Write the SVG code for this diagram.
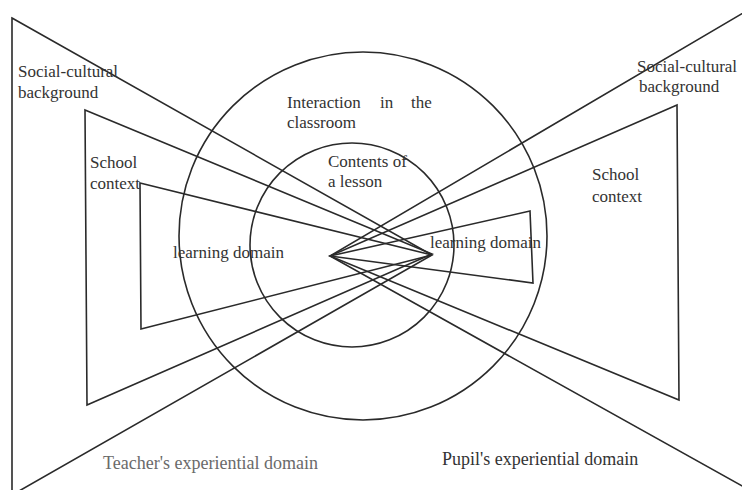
<svg xmlns="http://www.w3.org/2000/svg" width="742" height="490" viewBox="0 0 742 490">
<style>
.ln{fill:none;stroke:#2a2a2a;stroke-width:1.6;stroke-linejoin:miter}
.t{font-family:"Liberation Serif","Times New Roman",serif;font-size:17px;fill:#333}
.b{font-size:18px}
.g{fill:#6a6a6a}
</style>
<rect width="742" height="490" fill="#fff"/>
<g id="circles">
<circle id="outer-circle" class="ln" cx="363" cy="236" r="184"/>
<circle id="inner-circle" class="ln" cx="352" cy="245" r="102"/>
</g>
<g id="connectors">
<polygon id="teacher-social" class="ln" points="12,18 432,255 12,495"/>
<polygon id="teacher-school" class="ln" points="85,110 432,254 87,405"/>
<polygon id="teacher-learning" class="ln" points="140,183 432,255 141,329"/>
<polygon id="pupil-social" class="ln" points="760,3 330,256 760,496"/>
<polygon id="pupil-school" class="ln" points="677,105 330,256 679,400"/>
<polygon id="pupil-learning" class="ln" points="530,211 330,256 533,283"/>
</g>
<g id="node-social-left"><text class="t" x="18" y="77">Social-cultural</text><text class="t" x="18" y="98">background</text></g>
<g id="node-school-left"><text class="t" x="90" y="168">School</text><text class="t" x="90" y="189">context</text></g>
<g id="node-learning-left"><text class="t" x="173" y="258">learning domain</text></g>
<g id="node-interaction"><text class="t" x="287" y="108">Interaction</text><text class="t" x="380" y="108">in</text><text class="t" x="411" y="108">the</text><text class="t" x="287" y="128">classroom</text></g>
<g id="node-contents"><text class="t" x="328" y="167">Contents of</text><text class="t" x="328" y="187">a lesson</text></g>
<g id="node-learning-right"><text class="t" x="430" y="248">learning domain</text></g>
<g id="node-social-right"><text class="t" x="637" y="72">Social-cultural</text><text class="t" x="639" y="92">background</text></g>
<g id="node-school-right"><text class="t" x="592" y="180">School</text><text class="t" x="592" y="202">context</text></g>
<g id="node-teacher"><text class="t b g" x="103" y="469">Teacher's experiential domain</text></g>
<g id="node-pupil"><text class="t b" x="442" y="465">Pupil's experiential domain</text></g>
</svg>
